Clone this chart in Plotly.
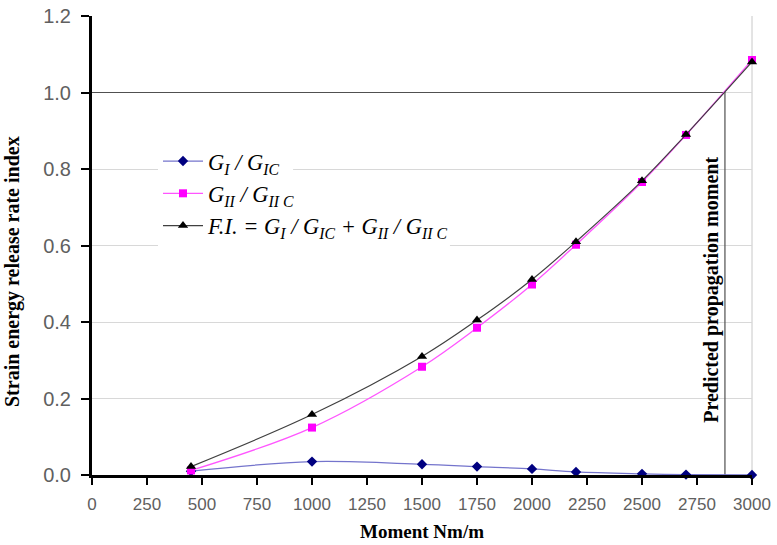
import plotly.graph_objects as go

moment = [450, 1000, 1500, 1750, 2000, 2200, 2500, 2700, 3000]
g1_ratio = [0.010, 0.035, 0.028, 0.022, 0.016, 0.008, 0.003, 0.001, 0.000]
g2_ratio = [0.012, 0.124, 0.283, 0.385, 0.498, 0.602, 0.766, 0.889, 1.085]
fi_index = [0.022, 0.158, 0.310, 0.405, 0.511, 0.610, 0.769, 0.890, 1.080]
predicted_moment = 2877
failure_level = 1.0
x_ticks = list(range(0, 3001, 250))
y_ticks = [0.0, 0.2, 0.4, 0.6, 0.8, 1.0, 1.2]

serif = "Liberation Serif, Times New Roman, serif"
sans = "Liberation Sans, Arial, sans-serif"

fig = go.Figure()

fig.add_trace(go.Scatter(
    x=[0, predicted_moment, predicted_moment], y=[failure_level, failure_level, 0],
    mode="lines", line=dict(color="#505050", width=1.2), showlegend=False, hoverinfo="skip"))

fig.add_trace(go.Scatter(
    x=moment, y=g1_ratio, mode="lines+markers", name="<i>G<sub>I</sub> / G<sub>IC</sub></i>",
    line=dict(color="#7474cc", width=1.3, shape="spline", smoothing=1),
    marker=dict(symbol="diamond", size=8, color="#000080"), cliponaxis=False))
fig.add_trace(go.Scatter(
    x=moment, y=g2_ratio, mode="lines+markers", name="<i>G<sub>II</sub> / G<sub>II C</sub></i>",
    line=dict(color="#ff55ff", width=1.3, shape="spline", smoothing=1),
    marker=dict(symbol="square", size=8, color="#ff00ff"), cliponaxis=False))
fig.add_trace(go.Scatter(
    x=moment, y=fi_index, mode="lines+markers",
    name="<i>F.I. = G<sub>I</sub> / G<sub>IC</sub> + G<sub>II</sub> / G<sub>II C</sub></i>",
    line=dict(color="#404040", width=1.2, shape="spline", smoothing=1),
    marker=dict(symbol="triangle-up", size=9, color="#000000"), cliponaxis=False))

# light frame on the right
fig.add_shape(type="line", xref="x domain", yref="y domain", x0=1, x1=1, y0=0, y1=1,
              line=dict(color="#c8c8c8", width=1), layer="below")
# white patches behind the legend entries (hide gridlines there)
fig.add_shape(type="rect", xref="x", yref="y", x0=300, x1=914, y0=0.775, y1=0.825,
              fillcolor="white", line=dict(width=0), layer="between")
fig.add_shape(type="rect", xref="x", yref="y", x0=300, x1=1627, y0=0.575, y1=0.625,
              fillcolor="white", line=dict(width=0), layer="between")

fig.add_annotation(text="<b>Predicted propagation moment</b>", textangle=-90,
                   x=2818, y=0.484, xref="x", yref="y", showarrow=False,
                   font=dict(family=serif, size=20, color="#000"))

# y-axis title (paper coords are relative to the plot area)
fig.add_annotation(text="<b>Strain energy release rate index</b>", textangle=-90,
                   x=(12 - 92) / 660, y=(475 - 272) / 459, xref="paper", yref="paper",
                   xanchor="center", yanchor="middle", showarrow=False,
                   font=dict(family=serif, size=20, color="#000"))

fig.update_layout(
    width=777, height=545,
    margin=dict(l=92, r=25, t=16, b=70),
    paper_bgcolor="white", plot_bgcolor="white",
    showlegend=True,
    legend=dict(x=0.1, y=0.73, xanchor="left", yanchor="top",
                bgcolor="rgba(255,255,255,0)", font=dict(family=serif, size=22.5, color="#000"),
                tracegroupgap=0, itemwidth=40),
    xaxis=dict(range=[0, 3000], tickvals=x_ticks, ticktext=[str(v) for v in x_ticks],
               showgrid=False, zeroline=False, automargin=False,
               showline=True, linecolor="#000", linewidth=3,
               ticks="outside", ticklen=7, tickwidth=2, tickcolor="#000", ticklabelstandoff=5,
               tickfont=dict(family=sans, size=17, color="#606060"),
               title=dict(text="<b>Moment Nm/m</b>", font=dict(family=serif, size=19, color="#000"), standoff=12)),
    yaxis=dict(range=[0, 1.2], tickvals=y_ticks, ticktext=[f"{v:.1f}" for v in y_ticks],
               showgrid=True, gridcolor="#d8d8d8", gridwidth=1, zeroline=False, automargin=False,
               showline=True, linecolor="#000", linewidth=3,
               ticks="outside", ticklen=8, tickwidth=2, tickcolor="#000", ticklabelstandoff=6,
               tickfont=dict(family=sans, size=20, color="#606060")),
)

fig.write_html("out.html")
